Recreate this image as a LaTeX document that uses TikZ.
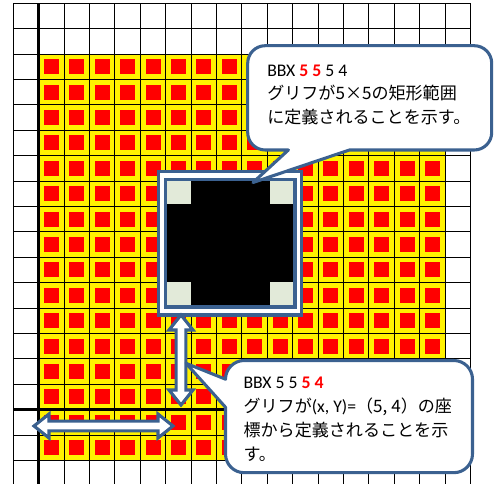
\documentclass[tikz,border=0pt]{standalone}
\usepackage{fontspec}
\setmainfont{Carlito}
\newfontfamily\jp{Noto Sans CJK JP}
\newcommand\jtext[1]{{\jp\fontsize{12.8}{15}\selectfont #1}}
\definecolor{cb}{HTML}{3B6190}
\definecolor{cornerfill}{HTML}{E2EAD9}
\begin{document}
\begin{tikzpicture}[x=0.75pt,y=0.75pt,yscale=-1,
  gridline/.style={draw=black,line width=0.7pt},
  axisline/.style={draw=black,line width=1.9pt},
  frame/.style={draw=cb,line width=2.3pt},
  blockarrow/.style={draw=cb,fill=white,line width=2.3pt,line join=miter},
  callout/.style={draw=cb,fill=white,line width=2.3pt,line join=round},
  txt/.style={anchor=base west,inner sep=0pt,font=\fontsize{13.3}{16}\selectfont}
]
\useasboundingbox (0,0) rectangle (496,484);
\fill[white] (0,0) rectangle (496,484);
% yellow field with red dots
\fill[yellow] (38.7,54.1) rectangle (445.7,460.5);
\foreach \i in {1,...,16}{
  \foreach \j in {2,...,17}{
    \fill[red] ({13.3+25.4*\i+5.2},{3.3+25.4*\j+5.2}) rectangle ++(15,15);
  }}
% grid
\begin{scope}
\clip (0,0) rectangle (496,484);
\foreach \i in {0,...,18} \draw[gridline] ({13.3+25.4*\i},3.3) -- ({13.3+25.4*\i},484);
\foreach \j in {0,...,18} \draw[gridline] (13.3,{3.3+25.4*\j}) -- (470.5,{3.3+25.4*\j});
\end{scope}
% axes
\draw[axisline] (38.7,3.3) -- (38.7,484);
\draw[axisline] (13.3,409.7) -- (470.5,409.7);
% glyph box
\draw[frame,fill=white] (158.3,171.7) rectangle (301.7,315);
\fill[black] (165.5,179.5) rectangle (295,307);
\fill[cornerfill] (165.5,179.5) rectangle ++(25,25);
\fill[cornerfill] (295,179.5) rectangle ++(-25,25);
\fill[cornerfill] (165.5,307) rectangle ++(25,-25);
\fill[cornerfill] (295,307) rectangle ++(-25,-25);
\draw[frame] (165.5,179.5) rectangle (295,307);
% arrows
\draw[blockarrow] (181,315) -- (193,330) -- (185.8,330) -- (185.8,390) -- (193,390) -- (181,405)
  -- (169,390) -- (176.2,390) -- (176.2,330) -- (169,330) -- cycle;
\draw[blockarrow] (34,426) -- (49,414) -- (49,421.2) -- (158,421.2) -- (158,414) -- (173,426)
  -- (158,438) -- (158,430.8) -- (49,430.8) -- (49,438) -- cycle;
% top callout
\draw[callout] (265.2,45.7) -- (474.2,45.7) arc[start angle=-90,end angle=0,radius=17.5]
  -- (491.7,132.5) arc[start angle=0,end angle=90,radius=17.5]
  -- (349.4,150) -- (253,182.5) -- (288.4,150)
  -- (265.2,150) arc[start angle=90,end angle=180,radius=17.5]
  -- (247.7,63.2) arc[start angle=180,end angle=270,radius=17.5] -- cycle;
% bottom callout
\draw[callout] (244.2,360.5) -- (453.8,360.5) arc[start angle=-90,end angle=0,radius=18.7]
  -- (472.5,454) arc[start angle=0,end angle=90,radius=18.7]
  -- (244.2,472.7) arc[start angle=90,end angle=180,radius=18.7]
  -- (225.5,407.25) -- (186,363.3) -- (225.5,379.2)
  arc[start angle=180,end angle=270,radius=18.7] -- cycle;
% texts
\node[txt] (t1) at (267,76.3) {BBX \textcolor{red}{\bfseries 5 5} 5 4};
\node[txt] (t2) at (267,99.8) {\jtext{グリフが5×5の矩形範囲}};
\node[txt] (t3) at (267,123.8) {\jtext{に定義されることを示す。}};
\node[txt] (b1) at (243.3,388.3) {BBX 5 5 \textcolor{red}{\bfseries 5 4}};
\node[txt] (b2) at (243.3,412.3) {\jtext{グリフが}(x, Y)=\jtext{（5, 4）の座}};
\node[txt] (b3) at (243.3,436.3) {\jtext{標から定義されることを示}};
\node[txt] (b4) at (243.3,460.3) {\jtext{す。}};
\end{tikzpicture}
\end{document}
